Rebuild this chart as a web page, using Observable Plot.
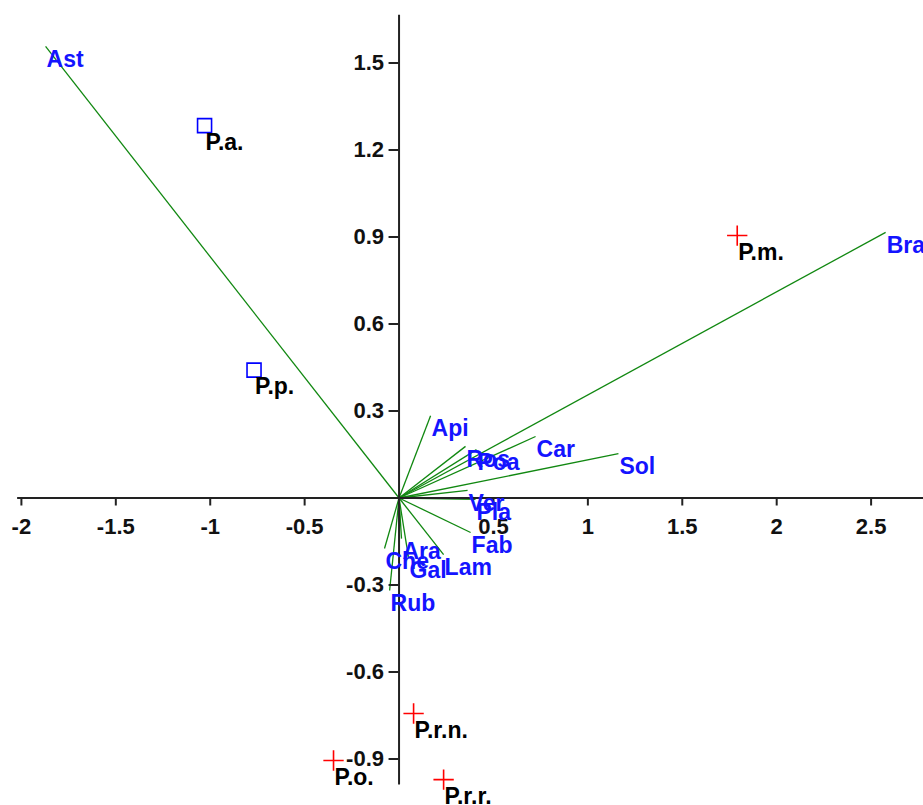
<!DOCTYPE html>
<html>
<head>
<meta charset="utf-8">
<script src="https://cdn.jsdelivr.net/npm/d3@7"></script>
<script src="https://cdn.jsdelivr.net/npm/@observablehq/plot@0.6"></script>
<style>
  html, body { margin: 0; padding: 0; background: #ffffff; }
  #chart svg { display: block; }
</style>
</head>
<body>
<div id="chart"></div>
<script>
// Variable (family) vectors
const varNames = ["Ast", "Bra", "Sol", "Car", "Api", "Ros", "Poa", "Ver", "Pla", "Fab", "Lam", "Ara", "Che", "Gal", "Rub"];
const varX     = [-1.872, 2.577, 1.162, 0.723, 0.167, 0.352, 0.410, 0.363, 0.405, 0.379, 0.236, 0.013, -0.077, 0.050, -0.050];
const varY     = [1.557, 0.916, 0.153, 0.212, 0.284, 0.178, 0.167, 0.026, -0.005, -0.119, -0.195, -0.140, -0.174, -0.205, -0.319];

// Sample points
const ptNames  = ["P.a.", "P.p.", "P.m.", "P.r.n.", "P.o.", "P.r.r."];
const ptX      = [-1.030, -0.768, 1.791, 0.077, -0.347, 0.236];
const ptY      = [1.284, 0.441, 0.905, -0.743, -0.905, -0.971];
const ptGroup  = ["square", "square", "plus", "plus", "plus", "plus"];

// Axes
const xTicks = [-2, -1.5, -1, -0.5, 0.5, 1, 1.5, 2, 2.5];
const xTickLabels = ["-2", "-1.5", "-1", "-0.5", "0.5", "1", "1.5", "2", "2.5"];
const yTicks = [1.5, 1.2, 0.9, 0.6, 0.3, -0.3, -0.6, -0.9];
const yTickLabels = ["1.5", "1.2", "0.9", "0.6", "0.3", "-0.3", "-0.6", "-0.9"];
const xDomain = [-2.1107, 2.7775];
const yDomain = [-1.0603, 1.7155];
const xAxisExtent = [-2.02, 2.78];
const yAxisExtent = [-0.99, 1.665];
const origin = 0;

const vectors = varNames.map((name, i) => ({name, x: varX[i], y: varY[i]}));
const points = ptNames.map((name, i) => ({name, x: ptX[i], y: ptY[i], group: ptGroup[i]}));
const xt = xTicks.map((v, i) => ({v, label: xTickLabels[i]}));
const yt = yTicks.map((v, i) => ({v, label: yTickLabels[i]}));

const font = "'Liberation Sans', Arial, sans-serif";

const chart = Plot.plot({
  width: 923,
  height: 805,
  marginTop: 0, marginRight: 0, marginBottom: 0, marginLeft: 0,
  x: {domain: xDomain, axis: null},
  y: {domain: yDomain, axis: null},
  style: {background: "#ffffff", fontFamily: font},
  marks: [
    Plot.link(vectors, {x1: origin, y1: origin, x2: "x", y2: "y", stroke: "#118811", strokeWidth: 1.3}),
    Plot.ruleY([origin], {x1: xAxisExtent[0], x2: xAxisExtent[1], stroke: "#222", strokeWidth: 2}),
    Plot.ruleX([origin], {y1: yAxisExtent[0], y2: yAxisExtent[1], stroke: "#222", strokeWidth: 2}),
    Plot.ruleX(xt, {x: "v", y1: origin, y2: origin, insetBottom: -8, stroke: "#222", strokeWidth: 2}),
    Plot.ruleY(yt, {y: "v", x1: origin, x2: origin, insetLeft: -10, stroke: "#222", strokeWidth: 2}),
    Plot.text(xt, {x: "v", y: origin, text: "label", dy: 20, lineAnchor: "top", textAnchor: "middle",
      fontSize: 22, fontWeight: "bold", fill: "#111"}),
    Plot.text(yt, {x: origin, y: "v", text: "label", dx: -15, lineAnchor: "middle", textAnchor: "end",
      fontSize: 22, fontWeight: "bold", fill: "#111"}),
    Plot.dot(points.filter(d => d.group === "square"), {x: "x", y: "y", symbol: "square", r: 7.9,
      stroke: "#0000ff", strokeWidth: 1.6, fill: "none"}),
    Plot.dot(points.filter(d => d.group === "plus"), {x: "x", y: "y", symbol: "plus", r: 6.6,
      stroke: "#ff0000", strokeWidth: 1.6}),
    Plot.text(points, {x: "x", y: "y", text: "name", dx: 1, dy: 8, lineAnchor: "top", textAnchor: "start",
      fontSize: 23, fontWeight: "bold", fill: "#000"}),
    Plot.text(vectors, {x: "x", y: "y", text: "name", dx: 1, dy: 4, lineAnchor: "top", textAnchor: "start",
      fontSize: 23, fontWeight: "bold", fill: "#1414ff"})
  ]
});
document.getElementById("chart").appendChild(chart);
</script>
</body>
</html>
